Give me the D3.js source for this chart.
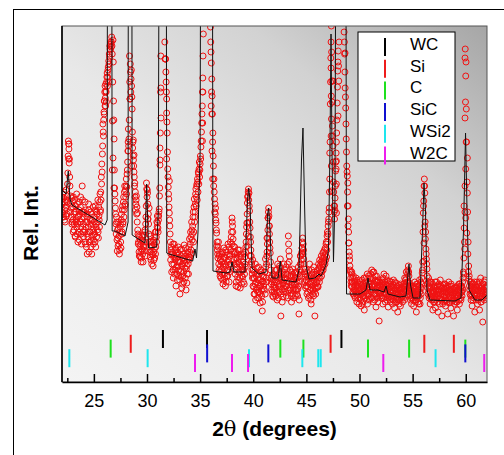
<!DOCTYPE html>
<html>
<head>
<meta charset="utf-8">
<script src="https://cdn.jsdelivr.net/npm/d3@7"></script>
<style>
body { margin: 0; background: #fff; }
text { font-family: "Liberation Sans", Arial, sans-serif; }
</style>
</head>
<body>
<svg id="xrd" width="504" height="455"></svg>
<script>
// scanA: 2theta = 22.000 + i*0.05, scanB: 2theta = 22.025 + i*0.05
var scanStep = 0.05;
var scanAStart = 22, scanBStart = 22.025;
var scanA = [].concat(
  [185,170,180,165,190,172,160,182,176,168,186,209,241,233,223,196,178,165,184,160], // 22
  [175,150,168,158,182,145,170,162,155,178,140,166,172,150,160,185,148,163,196,170], // 23
  [158,150,165,140,172,155,135,168,160,145,178,130,158,150,170,142,128,162,152,138], // 24
  [150,165,140,172,155,145,168,160,150,175,162,180,170,190,205,218,228,258,246,270], // 25
  [281,296,276,290,300,309,305,315,321,328,336,332,338,340,336,261,342,281,243,194], // 26
  [181,168,148,160,131,144,154,138,128,150,158,134,168,150,176,160,185,172,196,178], // 27
  [185,203,195,212,231,253,243,326,283,310,303,296,273,234,226,216,205,199,190,178], // 28
  [186,175,169,148,140,130,145,125,138,120,133,142,128,136,147,131,152,140,165,199], // 29
  [185,189,163,158,174,135,125,140,130,118,136,127,142,122,133,145,128,150,140,155], // 30
  [159,150,166,173,194,249,326,420,500,560,580,540,460,380,323,323,300,283,249,213], // 31
  [195,183,201,156,140,128,135,118,130,112,125,138,108,122,132,115,127,102,120,135], // 32
  [112,128,88,120,105,133,116,98,124,110,137,119,104,126,113,99,122,130,108,125],   // 33
  [143,125,150,132,160,142,156,170,150,183,165,178,193,185,198,203,190,208,213,205], // 34
  [218,223,241,259,276,304,348,400,450,500,560,600,620,600,560,520,480,440,400,370], // 35
  [340,319,303,268,249,216,203,183,178,174,159,149,140,128,135,118,126,110,122,104], // 36
  [120,108,130,98,115,125,104,118,132,100,112,127,106,122,135,110,128,140,118,150],  // 37
  [164,156,143,130,118,135,108,124,100,115,128,95,120,110,132,104,117,125,98,112],   // 38
  [105,120,112,98,125,115,135,148,159,179,186,193,189,171,154,140,126,118,108,122],  // 39
  [112,95,104,88,118,100,92,108,84,99,115,90,103,79,96,110,86,71,101,93],            // 40
  [105,92,110,123,100,118,130,144,164,174,156,140,129,112,98,106,90,102,85,97],      // 41
  [100,88,112,94,105,82,118,96,108,90,114,123,66,102,92,110,85,99,118,93],           // 42
  [104,90,115,96,108,84,146,131,100,112,92,106,80,97,113,88,102,94,109,86],          // 43
  [98,110,88,104,93,115,68,100,112,126,118,128,134,144,138,123,110,105,113,96],      // 44
  [102,88,110,95,84,106,118,92,100,78,112,96,88,104,115,90,66,98,108,94],            // 45
  [100,112,95,118,108,122,104,114,126,110,120,129,115,124,132,118,128,138,125,146],  // 46
  [140,156,163,174,203,278,324,356,301,256,236,200,176,163,184,211,229,249,279,311], // 47
  [331,301,360,400,450,480,500,490,460,420,380,350,328,294,274,243,216,206,199,163], // 48
  [139,126,116,110,100,108,95,104,88,98,92,102,84,96,90,80,100,87,94,78],            // 49
  [92,84,98,76,88,102,80,94,86,72,96,90,104,82,93,78,100,106,88,95],                 // 50
  [98,108,85,112,92,104,80,110,96,88,102,75,106,94,84,100,90,61,97,86],              // 51
  [90,98,84,102,78,96,108,88,100,94,106,82,97,90,75,93,86,101,80,95],                // 52
  [84,96,78,90,102,86,74,93,88,99,80,92,70,87,97,82,91,76,94,85],                    // 53
  [88,80,96,84,92,104,86,98,110,100,93,112,116,106,99,90,82,94,78,88],               // 54
  [84,96,76,90,100,82,93,70,88,98,80,92,86,102,78,95,88,104,109,120],                // 55
  [169,181,203,189,143,133,123,113,98,88,104,84,94,78,90,100,82,92,72,86],           // 56
  [90,80,96,74,88,100,84,92,70,86,95,78,102,83,91,66,88,97,80,93],                   // 57
  [86,98,76,90,82,94,68,88,100,79,92,85,74,96,87,81,93,66,89,78],                    // 58
  [90,80,95,84,72,92,86,98,78,88,94,82,96,86,100,104,108,154,133,333],               // 59
  [306,273,149,224,128,110,103,96,88,100,82,94,76,90,98,84,92,70,88,95],             // 60
  [86,100,78,92,84,96,72,88,104,80,94,86,60,98,90,82,102,88,95,84],                  // 61
  [90]
);
var scanB = [].concat(
  [178,188,168,184,162,180,174,192,166,180,198,226,238,219,205,170,186,174,158,181], // 22
  [162,185,152,170,146,176,160,188,148,165,158,180,142,168,175,155,138,170,182,150], // 23
  [145,170,152,180,138,160,148,128,165,155,172,140,150,162,135,168,146,158,175,142], // 24
  [160,148,176,135,158,170,152,182,144,166,155,188,172,182,198,210,236,250,262,268], // 25
  [290,284,298,280,305,296,312,300,318,325,333,340,335,345,328,300,320,262,212,188], // 26
  [174,158,165,142,152,136,160,146,132,155,140,162,148,172,158,180,165,190,176,192], // 27
  [196,188,208,220,240,236,262,300,318,290,312,285,250,240,222,210,196,185,172,182], // 28
  [168,160,152,138,146,126,136,142,130,124,146,132,120,140,135,150,126,158,176,193], // 29
  [192,178,168,148,140,130,146,122,136,128,140,116,130,138,124,150,135,145,160,166], // 30
  [154,162,170,186,222,290,380,460,530,570,560,500,420,340,323,310,290,260,230,205], // 31
  [188,175,162,148,122,132,110,128,138,104,118,126,112,134,96,124,108,130,116,106],  // 32
  [120,102,132,110,126,94,118,106,128,100,122,114,134,92,116,108,128,118,135,122],   // 33
  [130,138,145,128,152,148,165,140,175,160,170,188,176,196,182,200,210,198,220,212], // 34
  [226,235,250,268,290,326,370,420,470,530,580,610,610,580,540,500,460,420,385,355], // 35
  [330,290,286,240,226,196,190,170,168,162,152,136,132,124,140,112,128,106,116,125], // 36
  [112,128,102,118,134,108,124,96,116,130,106,120,138,112,100,126,118,132,145,138],  // 37
  [160,150,136,122,128,112,130,96,118,124,105,132,102,118,126,94,110,128,106,116],   // 38
  [112,100,128,108,118,130,140,155,168,185,190,182,176,160,145,132,120,112,104,96],  // 39
  [104,88,110,98,82,106,94,114,90,102,84,108,96,88,112,92,100,80,106,96],            // 40
  [98,110,88,115,104,126,138,152,170,166,148,134,120,104,92,100,86,108,95,90],       // 41
  [94,106,86,100,112,90,104,84,98,116,110,96,88,104,80,98,108,90,102,112],           // 42
  [96,108,86,100,118,92,138,120,106,94,102,86,110,100,92,106,84,98,104,92],          // 43
  [104,92,100,86,108,96,82,106,118,110,122,130,140,128,132,118,100,108,94,102],      // 44
  [96,106,90,100,112,86,98,104,82,94,108,100,92,86,102,110,94,88,100,106],           // 45
  [108,96,104,114,100,116,110,120,106,118,124,112,130,120,126,134,122,140,132,150],  // 46
  [148,160,170,190,240,300,340,330,280,246,220,190,170,172,196,220,240,262,295,320], // 47
  [316,340,380,420,460,490,500,480,440,400,365,340,310,285,258,230,210,190,176,150], // 48
  [130,122,112,104,96,110,100,90,106,94,86,100,92,104,88,96,84,98,90,102],           // 49
  [88,100,82,96,90,78,98,86,104,92,84,100,96,88,108,94,86,98,82,92],                 // 50
  [104,90,100,84,96,110,88,98,82,106,92,100,86,96,80,102,94,88,100,92],              // 51
  [96,86,100,92,104,84,98,90,80,96,88,102,92,84,98,88,94,82,100,90],                 // 52
  [92,86,98,82,94,88,100,80,90,84,96,88,82,94,78,92,86,98,84,90],                    // 53
  [94,86,90,98,82,96,102,90,104,96,108,100,110,96,92,86,96,84,92,86],                // 54
  [90,82,94,86,96,80,90,98,84,92,88,78,96,90,84,100,94,98,112,150],                  // 55
  [176,196,196,160,150,128,118,106,94,100,90,96,86,100,84,94,88,98,90,80],           // 56
  [94,86,100,82,92,88,96,80,90,98,84,92,88,96,82,94,78,90,86,98],                    // 57
  [90,82,94,86,80,96,88,92,84,96,80,90,98,84,92,88,82,94,86,92],                     // 58
  [84,94,88,80,96,86,92,82,98,90,84,96,90,94,92,110,124,140,170,280],                // 59
  [320,240,200,170,140,116,106,92,100,86,96,88,98,82,94,88,100,86,92,82],            // 60
  [94,88,98,82,92,100,86,94,80,96,90,84,98,88,92,100,86,94,90,96]                    // 61
);

// extra points on the steep flanks [2theta, counts]
var flankPoints = [
  [22.66,238],[22.62,223],[25.98,281],[26.05,276],[26.12,291],
  [26.74,212],[26.8,224],[26.89,194],
  [28.24,231],[28.4,283],[28.56,216],[28.71,242],[28.78,227],[30.07,163],
  [31.22,217],[31.22,234],[31.32,264],[31.3,294],[31.85,269],[31.85,223],[32.1,169],
  [35.22,241],[35.24,259],[35.26,290],[36.04,276],[36.1,268],[36.12,231],[36.18,203],
  [39.42,136],[39.48,159],[39.52,146],[39.72,126],
  [41.29,144],[41.39,164],[41.51,156],[43.39,126],[44.43,126],[44.59,134],
  [47.2,229],[47.35,191],[47.35,216],[47.33,246],[47.36,263],[47.34,286],[47.32,314],
  [47.51,301],[47.66,176],[47.82,221],[47.82,198],[47.83,169],[47.8,213],[47.98,266],
  [48.64,329],[48.86,176],[48.92,156],[48.98,139],
  [56.07,139],[56.14,156],[56.07,121],
  [59.84,176],[59.93,196],[59.93,264],[59.93,324],[60.0,213],[60.0,164],[60.15,189],[60.04,240]
];

// calculated profile [2theta, counts]
var fitProfile = [
  [22.0,192],[22.38,188],[22.59,211],[22.75,183],[22.94,177],[26.05,157],[26.25,162],[26.3,700],
  [26.66,700],[26.72,151],[26.99,151],[27.93,146],[28.22,160],[28.26,700],[28.56,700],[28.6,147],
  [29.81,139],[29.97,198],[30.14,134],[30.91,135],[31.06,169],[31.2,700],[31.78,700],[31.86,129],
  [32.07,128],[34.3,121],[34.52,133],[34.66,124],[34.8,150],[35.0,230],[35.1,700],[36.12,700],
  [36.21,111],[37.44,109],[37.81,110],[38.0,120],[38.19,110],[39.22,110],[39.46,182],[39.57,194],
  [39.69,182],[39.88,114],[40.51,108],[41.2,110],[41.34,167],[41.45,174],[41.58,152],[41.76,104],
  [42.33,104],[42.55,121],[42.71,102],[44.02,100],[44.31,112],[44.54,222],[44.68,254],[44.82,182],
  [44.96,117],[45.25,103],[45.81,104],[46.19,108],[46.38,106],[46.85,117],[47.08,132],[47.22,232],
  [47.32,348],[47.41,232],[47.55,120],[47.69,182],[47.84,700],[48.68,700],[48.78,88],[50.05,88],
  [50.61,92],[50.8,104],[50.99,92],[51.74,92],[52.31,90],[52.5,96],[52.68,88],[53.81,85],
  [54.38,86],[54.56,107],[54.66,118],[54.8,97],[55.04,84],[55.69,84],[55.93,152],[56.07,199],
  [56.21,172],[56.35,92],[56.64,82],[58.99,81],[59.55,84],[59.79,152],[59.98,249],[60.12,172],
  [60.31,92],[60.87,82],[61.53,82],[62.0,87]
];

// reference peak positions per phase
var phaseNames = ["WC", "Si", "C", "SiC", "WSi2", "W2C"];
var phaseColors = ["#000000", "#ee1c1c", "#1ee01e", "#1010d0", "#1ee6ee", "#ee1cee"];
var phasePeaks = [
  [31.5, 35.65, 48.3],
  [28.47, 47.28, 56.1, 58.88],
  [26.58, 42.55, 44.72, 50.8, 54.67, 59.96],
  [35.66, 41.42, 59.96],
  [22.69, 30.06, 39.6, 44.62, 46.12, 46.35, 57.16],
  [34.52, 38.0, 39.51, 52.24, 61.74]
];

var majorTicks = [25, 30, 35, 40, 45, 50, 55, 60];
var minorTicks = [22.5, 27.5, 32.5, 37.5, 42.5, 47.5, 52.5, 57.5];

var svg = d3.select("#xrd");
var margin = {top: 26, left: 62, right: 17, bottom: 73};
var width = 504 - margin.left - margin.right,
    height = 455 - margin.top - margin.bottom;

// outer frame
svg.append("rect")
  .attr("x", 13.5).attr("y", 9.5)
  .attr("width", 520).attr("height", 480)
  .attr("fill", "none").attr("stroke", "#000").attr("stroke-width", 1);

var defs = svg.append("defs");
var grad = defs.append("linearGradient").attr("id", "bg")
  .attr("x1", 0).attr("y1", 1).attr("x2", 1).attr("y2", 0);
grad.append("stop").attr("offset", "0").attr("stop-color", "#f4f4f4");
grad.append("stop").attr("offset", "0.45").attr("stop-color", "#e8e8e8");
grad.append("stop").attr("offset", "0.72").attr("stop-color", "#d2d2d2");
grad.append("stop").attr("offset", "1").attr("stop-color", "#a6a6a6");

defs.append("clipPath").attr("id", "plotclip")
  .append("rect").attr("width", width).attr("height", height);

var g = svg.append("g")
  .attr("transform", "translate(" + margin.left + "," + margin.top + ")");

g.append("rect")
  .attr("width", width).attr("height", height)
  .attr("fill", "url(#bg)");

var x = d3.scaleLinear().domain([22, 62]).range([0, width]);
var y = d3.scaleLinear().domain([0, 356]).range([height, 0]);

var plot = g.append("g").attr("clip-path", "url(#plotclip)");

var obs = scanA.map(function(c, i) { return [scanAStart + i * scanStep, c]; })
  .concat(scanB.map(function(c, i) { return [scanBStart + i * scanStep, c]; }))
  .concat(flankPoints);

plot.selectAll(".obs")
  .data(obs)
  .enter().append("circle")
  .attr("class", "obs")
  .attr("cx", function(d) { return x(d[0]); })
  .attr("cy", function(d) { return y(d[1]); })
  .attr("r", 3)
  .attr("fill", "none")
  .attr("stroke", "#f01212")
  .attr("stroke-width", 1);

var line = d3.line()
  .x(function(d) { return x(d[0]); })
  .y(function(d) { return y(d[1]); });

plot.append("path")
  .datum(fitProfile)
  .attr("d", line)
  .attr("fill", "none")
  .attr("stroke", "#111")
  .attr("stroke-width", 1);

// phase markers, stacked rows (counts units)
var markTop = 52, markStep = 4.8, markLen = 18;
phaseNames.forEach(function(name, i) {
  plot.selectAll(".mk" + i)
    .data(phasePeaks[i])
    .enter().append("line")
    .attr("x1", function(d) { return x(d); })
    .attr("x2", function(d) { return x(d); })
    .attr("y1", y(markTop - i * markStep))
    .attr("y2", y(markTop - i * markStep - markLen))
    .attr("stroke", phaseColors[i])
    .attr("stroke-width", 2);
});

// frame of the plot
g.append("rect")
  .attr("width", width).attr("height", height)
  .attr("fill", "none").attr("stroke", "#555").attr("stroke-width", 1);
g.append("line")
  .attr("x1", 0).attr("x2", 0).attr("y1", 0).attr("y2", height)
  .attr("stroke", "#000").attr("stroke-width", 1.6);

var xAxis = d3.axisBottom(x).tickValues(majorTicks)
  .tickSizeInner(-8).tickSizeOuter(0).tickPadding(12);
var xMinor = d3.axisBottom(x).tickValues(minorTicks)
  .tickSizeInner(-4).tickSizeOuter(0).tickFormat("");

var ax = g.append("g").attr("transform", "translate(0," + height + ")").call(xAxis);
g.append("g").attr("transform", "translate(0," + height + ")").call(xMinor)
  .select(".domain").remove();
ax.select(".domain").attr("stroke-width", 1.6);
g.selectAll(".tick line").attr("stroke-width", 1.5);
ax.selectAll(".tick text")
  .style("font-family", "'Liberation Sans', Arial, sans-serif")
  .style("font-size", "18px").attr("fill", "#000");

// axis titles
var xt = svg.append("text")
  .attr("x", margin.left + width / 2).attr("y", 436)
  .attr("text-anchor", "middle")
  .style("font-size", "21px").style("font-weight", "bold");
xt.append("tspan").text("2");
xt.append("tspan").style("font-family", "'DejaVu Serif', serif").style("font-weight", "normal").text("θ");
xt.append("tspan").text(" (degrees)");

svg.append("text")
  .attr("transform", "translate(38,223) rotate(-90)")
  .attr("text-anchor", "middle")
  .style("font-size", "21px").style("font-weight", "bold")
  .text("Rel. Int.");

// legend
var legend = svg.append("g").attr("transform", "translate(358,32)");
legend.append("rect")
  .attr("width", 97).attr("height", 129)
  .attr("fill", "#fff").attr("stroke", "#000").attr("stroke-width", 1);
var items = legend.selectAll(".item")
  .data(phaseNames)
  .enter().append("g")
  .attr("transform", function(d, i) { return "translate(0," + (18 + i * 21.7) + ")"; });
items.append("line")
  .attr("x1", 27).attr("x2", 27).attr("y1", -12).attr("y2", 6)
  .attr("stroke", function(d, i) { return phaseColors[i]; })
  .attr("stroke-width", 2);
items.append("text")
  .attr("x", 52).attr("y", 0)
  .style("font-size", "17px")
  .text(function(d) { return d; });
</script>
</body>
</html>
